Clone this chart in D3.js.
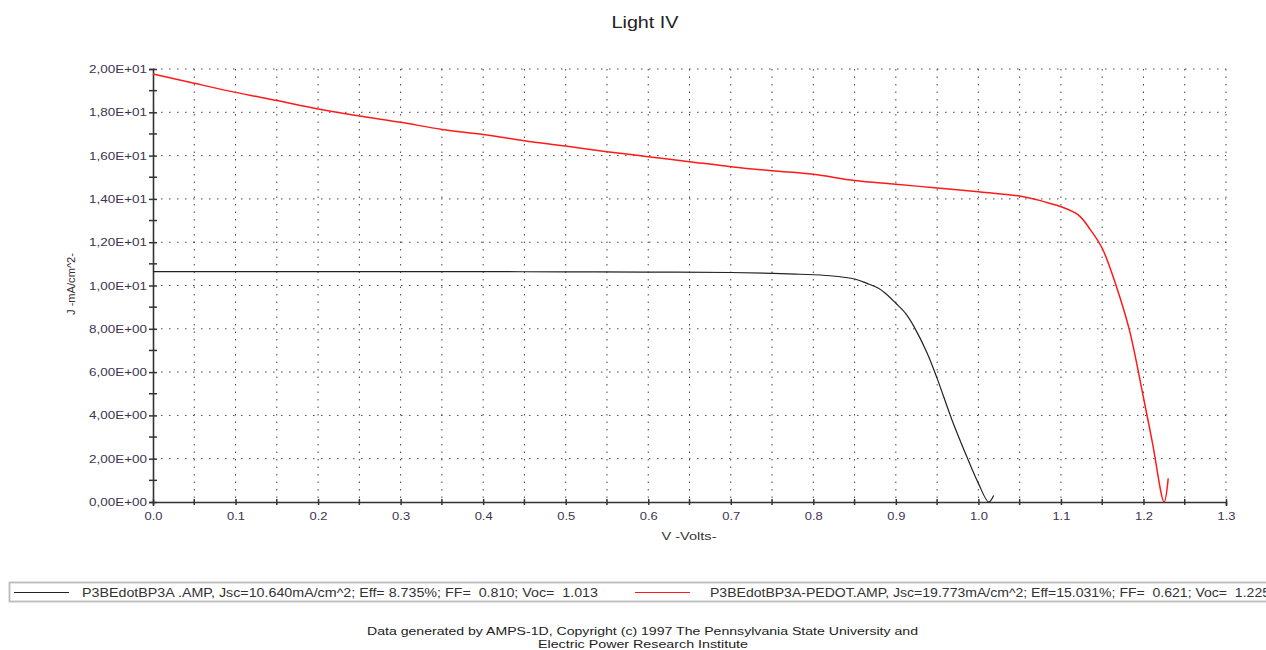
<!DOCTYPE html>
<html>
<head>
<meta charset="utf-8">
<script src="https://cdn.jsdelivr.net/npm/d3@7"></script>
<style>
  body { margin: 0; background: #fff; }
  text { font-family: "Liberation Sans", Arial, sans-serif; }
</style>
</head>
<body>
<div id="chart"></div>
<script>
// Data
const blackV = [0, 0.1, 0.2, 0.3, 0.4, 0.5, 0.6, 0.7, 0.75, 0.784, 0.82, 0.851, 0.865, 0.879, 0.89, 0.9, 0.912, 0.922, 0.938, 0.95, 0.968, 0.986, 1.0, 1.0125, 1.0185];
const blackJ = [10.64, 10.64, 10.64, 10.64, 10.64, 10.63, 10.62, 10.6, 10.56, 10.52, 10.45, 10.29, 10.1, 9.87, 9.55, 9.18, 8.7, 8.1, 6.87, 5.71, 3.79, 2.09, 0.86, 0.0, 0.3];

const redV = [0, 0.05, 0.1, 0.15, 0.2, 0.25, 0.3, 0.35, 0.4, 0.45, 0.5, 0.55, 0.6, 0.65, 0.7, 0.75, 0.8, 0.85, 0.9, 0.95, 1.0, 1.05, 1.07, 1.083, 1.1, 1.121, 1.136, 1.15, 1.167, 1.183, 1.199, 1.211, 1.225, 1.23];
const redJ = [19.77, 19.34, 18.92, 18.54, 18.15, 17.83, 17.54, 17.21, 16.98, 16.69, 16.44, 16.18, 15.95, 15.72, 15.49, 15.3, 15.14, 14.85, 14.68, 14.5, 14.33, 14.13, 13.97, 13.83, 13.64, 13.26, 12.56, 11.72, 9.98, 7.94, 5.02, 2.71, 0.0, 1.09];

const seriesNames = [
  "P3BEdotBP3A .AMP, Jsc=10.640mA/cm^2; Eff= 8.735%; FF=  0.810; Voc=  1.013",
  "P3BEdotBP3A-PEDOT.AMP, Jsc=19.773mA/cm^2; Eff=15.031%; FF=  0.621; Voc=  1.225"
];
const seriesColors = ["#222222", "#ff1a1a"];

const xTicks = d3.range(0, 1.3001, 0.1);
const xMinor = d3.range(0, 1.3001, 0.05);
const yTicks = d3.range(0, 20.001, 2);
const yMinor = d3.range(1, 20, 2);

const footerLines = [
  "Data generated by AMPS-1D, Copyright (c) 1997 The Pennsylvania State University and",
  "Electric Power Research Institute"
];

const W = 1266, H = 650;
const margin = {top: 69, right: 40, bottom: 148, left: 153};
const width = W - margin.left - margin.right,
      height = H - margin.top - margin.bottom;

const svg = d3.select("#chart").append("svg")
  .attr("width", W).attr("height", H);

const g = svg.append("g")
  .attr("transform", `translate(${margin.left},${margin.top})`);

const x = d3.scaleLinear().domain([0, 1.3]).range([0, width]);
const y = d3.scaleLinear().domain([0, 20]).range([height, 0]);

const labelColor = "#3d3350";

// the original text is drawn wide, so stretch to the measured width
const stretch = (sel, w) => sel.attr("textLength", w).attr("lengthAdjust", "spacingAndGlyphs");

// Title
svg.append("text")
  .attr("x", 645).attr("y", 28)
  .attr("text-anchor", "middle")
  .attr("font-size", 16)
  .attr("fill", "#222")
  .text("Light IV")
  .call(stretch, 67);

// Dotted grid
g.append("g")
  .selectAll("line")
  .data(yTicks.filter(d => d > 0))
  .join("line")
  .attr("x1", 0).attr("x2", width)
  .attr("y1", d => y(d)).attr("y2", d => y(d))
  .attr("stroke", "#444")
  .attr("stroke-width", 1)
  .attr("stroke-dasharray", "1.5,6.5");

g.append("g")
  .selectAll("line")
  .data(xMinor.filter(d => d > 0.001))
  .join("line")
  .attr("x1", d => x(d)).attr("x2", d => x(d))
  .attr("y1", 0).attr("y2", height)
  .attr("stroke", "#444")
  .attr("stroke-width", 1)
  .attr("stroke-dasharray", "1.5,6");

// Y axis
const fmtE = d => {
  if (d === 0) return "0,00E+00";
  const e = Math.floor(Math.log10(d));
  const m = (d / Math.pow(10, e)).toFixed(2).replace(".", ",");
  return m + "E+" + String(e).padStart(2, "0");
};

const yAxis = g.append("g")
  .call(d3.axisLeft(y).tickValues(yTicks).tickFormat(fmtE).tickSize(4).tickPadding(3));
yAxis.select(".domain").attr("stroke", "#333").attr("stroke-width", 1.6);
yAxis.selectAll(".tick line").attr("stroke", "#333").attr("x2", 4).attr("x1", -4).attr("stroke-width", 1.5);
yAxis.selectAll("text").attr("font-size", 11).attr("fill", labelColor)
  .attr("font-family", "Liberation Sans, Arial, sans-serif")
  .attr("x", -6)
  .call(stretch, 58);

g.append("g")
  .selectAll("line")
  .data(yMinor)
  .join("line")
  .attr("x1", -4).attr("x2", 4)
  .attr("y1", d => y(d)).attr("y2", d => y(d))
  .attr("stroke", "#333").attr("stroke-width", 1.5);

// X axis
const xAxis = g.append("g")
  .attr("transform", `translate(0,${height})`)
  .call(d3.axisBottom(x).tickValues(xTicks).tickFormat(d3.format(".1f")).tickSize(4).tickPadding(6));
xAxis.select(".domain").attr("stroke", "#333").attr("stroke-width", 1.6);
xAxis.selectAll(".tick line").attr("stroke", "#333").attr("y1", -3).attr("y2", 3).attr("stroke-width", 1.5);
xAxis.selectAll("text").attr("font-size", 11).attr("fill", labelColor)
  .attr("font-family", "Liberation Sans, Arial, sans-serif")
  .call(stretch, 18);

g.append("g")
  .selectAll("line")
  .data(xMinor.filter((d, i) => i % 2 === 1))
  .join("line")
  .attr("x1", d => x(d)).attr("x2", d => x(d))
  .attr("y1", height - 3).attr("y2", height + 3)
  .attr("stroke", "#333").attr("stroke-width", 1.5);

// Axis labels
svg.append("text")
  .attr("x", 689).attr("y", 540)
  .attr("text-anchor", "middle")
  .attr("font-size", 11)
  .attr("fill", "#333")
  .text("V -Volts-")
  .call(stretch, 55);

svg.append("text")
  .attr("transform", "translate(75,284) rotate(-90)")
  .attr("text-anchor", "middle")
  .attr("font-size", 11)
  .attr("fill", "#3a2a30")
  .text("J -mA/cm^2-")
  .call(stretch, 62);

// Curves
const line = d3.line()
  .curve(d3.curveCatmullRom.alpha(0.5))
  .x(d => x(d[0]))
  .y(d => y(d[1]));

g.append("path")
  .datum(blackV.map((v, i) => [v, blackJ[i]]))
  .attr("fill", "none")
  .attr("stroke", seriesColors[0])
  .attr("stroke-width", 1.2)
  .attr("stroke-linejoin", "round")
  .attr("d", line);

g.append("path")
  .datum(redV.map((v, i) => [v, redJ[i]]))
  .attr("fill", "none")
  .attr("stroke", seriesColors[1])
  .attr("stroke-width", 1.5)
  .attr("stroke-linejoin", "round")
  .attr("d", line);

// Legend
svg.append("rect")
  .attr("x", 9.5).attr("y", 582.5)
  .attr("width", 1280).attr("height", 19)
  .attr("fill", "none")
  .attr("stroke", "#bbb")
  .attr("stroke-width", 1.8);

const legendPos = [{lx: 14, tx: 82, tw: 516}, {lx: 635, tx: 710, tw: 560}];
seriesNames.forEach((name, i) => {
  svg.append("line")
    .attr("x1", legendPos[i].lx).attr("x2", legendPos[i].lx + 55)
    .attr("y1", 592.5).attr("y2", 592.5)
    .attr("stroke", seriesColors[i]).attr("stroke-width", 1.2);
  svg.append("text")
    .attr("x", legendPos[i].tx).attr("y", 597)
    .attr("font-size", 12)
    .attr("fill", "#333")
    .style("white-space", "pre")
    .text(name)
    .call(stretch, legendPos[i].tw);
});

// Footer
const footerPos = [{x: 367, y: 635, w: 551}, {x: 538, y: 648, w: 210}];
footerLines.forEach((t, i) => {
  svg.append("text")
    .attr("x", footerPos[i].x).attr("y", footerPos[i].y)
    .attr("font-size", 11)
    .attr("fill", "#222")
    .text(t)
    .call(stretch, footerPos[i].w);
});
</script>
</body>
</html>
